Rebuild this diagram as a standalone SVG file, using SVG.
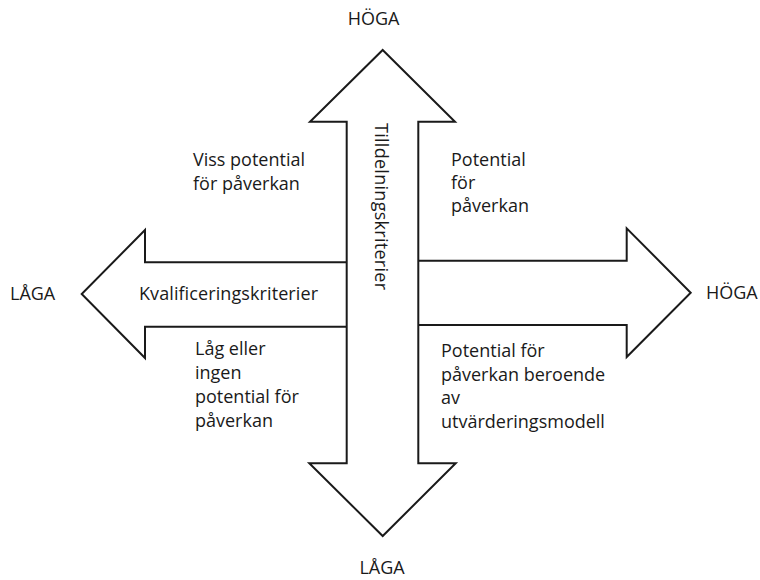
<svg xmlns="http://www.w3.org/2000/svg" width="760" height="580" viewBox="0 0 760 580">
<style>
.ar{fill:#fff;stroke:#1a1a1a;stroke-width:2;stroke-linejoin:miter}
.t{font-family:"Open Sans","Liberation Sans",sans-serif;font-size:18px;fill:#1a1a1a}
</style>
<rect width="760" height="580" fill="#fff"/>
<g id="connectors">
<path id="arrow-left" class="ar" d="M346.7,262.3 L145,262.3 L145,230 L81.7,294 L145,358 L145,326.7 L346.7,326.7"/>
<path id="arrow-right" class="ar" d="M418.3,260.7 L626.7,260.7 L626.7,228.3 L690.7,292.7 L626.7,357 L626.7,325 L418.3,325"/>
<polygon id="arrow-vertical" class="ar" points="382.7,50 455,121.7 418.3,121.7 418.3,463.3 455.7,463.3 382.7,536 309.3,463.3 346.7,463.3 346.7,121.7 310,121.7"/>
</g>
<g id="label-top"><text class="t" x="373.5" y="25" text-anchor="middle">HÖGA</text></g>
<g id="label-bottom"><text class="t" x="382" y="574" text-anchor="middle">LÅGA</text></g>
<g id="label-left"><text class="t" x="10" y="300">LÅGA</text></g>
<g id="label-right"><text class="t" x="706" y="299">HÖGA</text></g>
<g id="label-kval"><text class="t" x="139" y="300" textLength="179" lengthAdjust="spacing">Kvalificeringskriterier</text></g>
<g id="label-tilldelning"><text class="t" transform="translate(375,206.5) rotate(90)" text-anchor="middle" textLength="167" lengthAdjust="spacing">Tilldelningskriterier</text></g>
<g id="quadrant-tl"><text class="t" x="193" y="166">Viss potential<tspan x="193" y="190">för påverkan</tspan></text></g>
<g id="quadrant-tr"><text class="t" x="451" y="166">Potential<tspan x="451" y="189">för</tspan><tspan x="451" y="212">påverkan</tspan></text></g>
<g id="quadrant-bl"><text class="t" x="195" y="355">Låg eller<tspan x="195" y="379">ingen</tspan><tspan x="195" y="403">potential för</tspan><tspan x="195" y="427">påverkan</tspan></text></g>
<g id="quadrant-br"><text class="t" x="441" y="357">Potential för<tspan x="441" y="381">påverkan beroende</tspan><tspan x="441" y="404">av</tspan><tspan x="441" y="428">utvärderingsmodell</tspan></text></g>
</svg>
